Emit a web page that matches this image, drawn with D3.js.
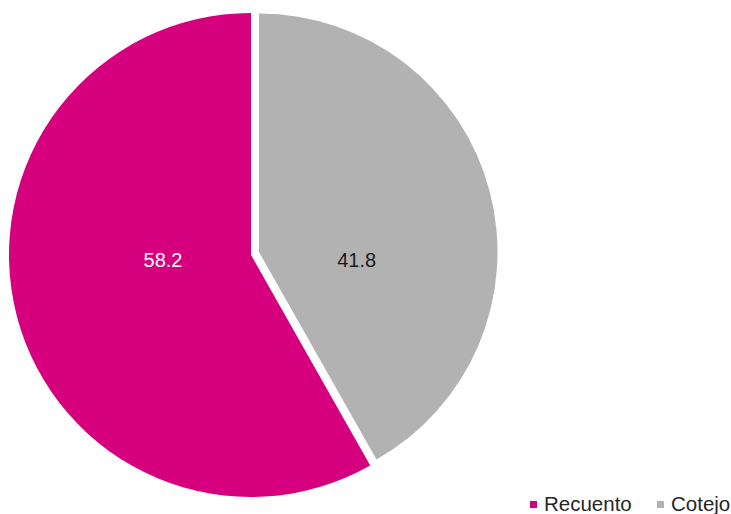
<!DOCTYPE html>
<html>
<head>
<meta charset="utf-8">
<script src="https://cdn.jsdelivr.net/npm/d3@7"></script>
<style>
  html, body { margin: 0; padding: 0; background: #ffffff; }
  svg { display: block; font-family: "Liberation Sans", Arial, sans-serif; }
</style>
</head>
<body>
<svg id="chart" width="731" height="514"></svg>
<script>
// Data
const categories = ["Cotejo", "Recuento"];
const values = [41.8, 58.2];
const labels = ["41.8", "58.2"];
const legendOrder = ["Recuento", "Cotejo"];

// Styles
const colors = { "Recuento": "#d6007e", "Cotejo": "#b2b2b2" };
const labelColors = { "Recuento": "#ffffff", "Cotejo": "#1a1a1a" };
const sliceOffset = { "Recuento": [0, 0], "Cotejo": [8, -3] };
const sliceRadius = { "Recuento": 242, "Cotejo": 238.5 };
const labelDist = { "Recuento": 91, "Cotejo": 101 };

const svg = d3.select("#chart");
const cx = 251, cy = 255;

const data = categories.map((c, i) => ({ cat: c, value: values[i], label: labels[i] }));

const pie = d3.pie().sort(null).value(d => d.value).startAngle(0).endAngle(2 * Math.PI);
const arcs = pie(data);
const arc = d3.arc().innerRadius(0).outerRadius(d => sliceRadius[d.data.cat]);

const g = svg.append("g").attr("transform", `translate(${cx},${cy})`);

g.selectAll("path.slice")
  .data(arcs)
  .enter().append("path")
  .attr("class", "slice")
  .attr("d", arc)
  .attr("fill", d => colors[d.data.cat])
  .attr("transform", d => { const o = sliceOffset[d.data.cat]; return `translate(${o[0]},${o[1]})`; });

// Labels placed horizontally along each slice's mid direction
g.selectAll("text.lbl")
  .data(arcs)
  .enter().append("text")
  .attr("class", "lbl")
  .attr("x", d => { const mid = (d.startAngle + d.endAngle) / 2; const o = sliceOffset[d.data.cat]; return Math.sin(mid) * labelDist[d.data.cat] + o[0]; })
  .attr("y", 5)
  .attr("text-anchor", "middle")
  .attr("dominant-baseline", "central")
  .attr("font-size", 20)
  .attr("fill", d => labelColors[d.data.cat])
  .text(d => d.data.label);

// Legend
const legend = svg.append("g").attr("transform", "translate(530,511)");
const legendX = d3.scalePoint().domain(legendOrder).range([0, 127]);
const items = legend.selectAll("g.item").data(legendOrder).enter().append("g")
  .attr("class", "item")
  .attr("transform", d => `translate(${legendX(d)},0)`);
items.append("rect")
  .attr("x", 0).attr("y", -10).attr("width", 7).attr("height", 7)
  .attr("fill", d => colors[d]);
items.append("text")
  .attr("x", 14).attr("y", 0)
  .attr("font-size", 20.5)
  .attr("fill", "#262626")
  .text(d => d);
</script>
</body>
</html>
